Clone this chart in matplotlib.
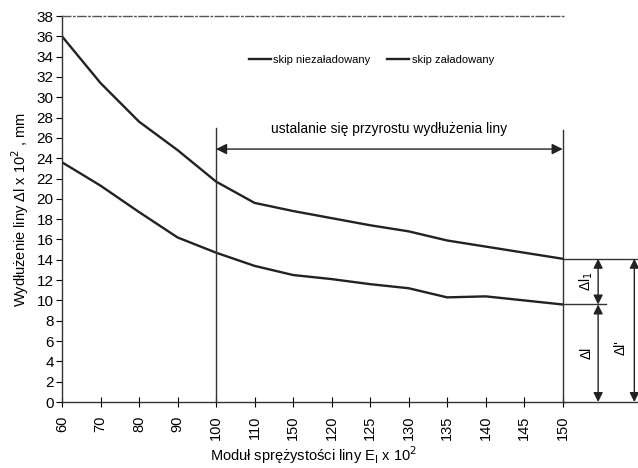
import matplotlib
matplotlib.use("Agg")
import matplotlib.pyplot as plt
import numpy as np

plt.rcParams['font.family'] = ['Liberation Sans', 'DejaVu Sans']

categories = ["60", "70", "80", "90", "100", "110", "150", "120", "125",
              "130", "135", "140", "145", "150"]
skip_niezaladowany = [36.0, 31.4, 27.6, 24.8, 21.7, 19.6, 18.8, 18.1, 17.4,
                      16.8, 15.9, 15.3, 14.7, 14.1]
skip_zaladowany = [23.6, 21.3, 18.7, 16.2, 14.7, 13.4, 12.5, 12.1, 11.6,
                   11.2, 10.3, 10.4, 10.0, 9.6]

x = np.arange(len(categories))

fig = plt.figure(figsize=(6.38, 4.68), dpi=100)
ax = fig.add_axes([62/638, 1-402/468, 503/638, 386/468])

ax.plot(x, skip_niezaladowany, color='#222222', lw=1.7, label='skip niezaładowany',
        solid_joinstyle='round')
ax.plot(x, skip_zaladowany, color='#222222', lw=1.7, label='skip załadowany',
        solid_joinstyle='round')

ax.set_xlim(0, 13.06)
ax.set_ylim(0, 38)
ax.set_yticks(np.arange(0, 39, 2))
ax.set_xticks(x)
ax.set_xticklabels(categories, rotation=90, fontsize=10.5)
ax.tick_params(axis='y', labelsize=11, direction='out', length=4, pad=2)
ax.tick_params(axis='x', direction='inout', length=7, pad=6)

ax.spines['right'].set_visible(False)
ax.spines['top'].set_linestyle((0, (6, 2, 1, 2)))
ax.spines['top'].set_color('#555555')
ax.spines['top'].set_linewidth(1.0)
for s in ['left', 'bottom']:
    ax.spines[s].set_color('#333333')
    ax.spines[s].set_linewidth(1.0)

ax.set_ylabel('Wydłużenie liny Δl x 10$^2$ , mm', fontsize=10.5, labelpad=4)
ax.set_xlabel('Moduł sprężystości liny E$_\\mathrm{l}$ x 10$^2$', fontsize=10.5,
              labelpad=3)

leg = ax.legend(loc='center', bbox_to_anchor=(0.615, 0.886), ncol=2, frameon=False,
                fontsize=8, handlelength=2.0, handletextpad=0.2, columnspacing=1.5)

# region markers
lc = '#333333'
ax.plot([4, 4], [0, 27.0], color=lc, lw=1.0)
ax.plot([13, 13], [0, 26.8], color=lc, lw=1.0)
ax.annotate('', xy=(4, 24.9), xytext=(13, 24.9),
            arrowprops=dict(arrowstyle='<|-|>', color='#222222', lw=1.0,
                            shrinkA=0, shrinkB=0, mutation_scale=16))
ax.text(8.5, 26.9, 'ustalanie się przyrostu wydłużenia liny', ha='center',
        va='center', fontsize=10)

# dimension annotations on the right
top = skip_niezaladowany[-1]
mid = skip_zaladowany[-1]
ax.plot([13, 14.96], [top, top], color=lc, lw=1.0, clip_on=False)
ax.plot([13, 14.12], [mid, mid], color=lc, lw=1.0, clip_on=False)
ax.plot([13, 14.96], [0, 0], color=lc, lw=1.0, clip_on=False)
for (xa, y0, y1) in [(13.92, top, mid), (13.92, mid, 0), (14.86, top, 0)]:
    ax.annotate('', xy=(xa, y0), xytext=(xa, y1), annotation_clip=False,
                arrowprops=dict(arrowstyle='<|-|>', color='#222222', lw=1.0,
                                shrinkA=0, shrinkB=0, mutation_scale=14))
ax.text(13.62, (top + mid) / 2, 'Δl$_1$', rotation=90, ha='center', va='center',
        fontsize=10, clip_on=False)
ax.text(13.62, mid / 2, 'Δl', rotation=90, ha='center', va='center',
        fontsize=10, clip_on=False)
ax.text(14.5, 5.4, "Δl'", rotation=90, ha='center', va='center',
        fontsize=10, clip_on=False)

fig.savefig('out.png', dpi=100)
